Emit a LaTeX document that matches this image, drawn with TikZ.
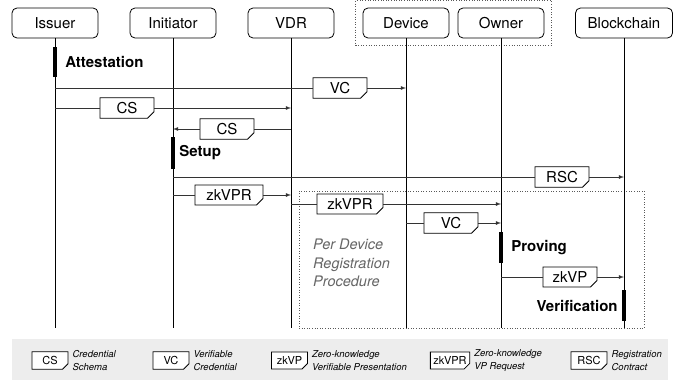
\documentclass[tikz,border=0pt]{standalone}
\usepackage{fontspec}
\setmainfont{TeX Gyre Heros}
\usetikzlibrary{positioning, shapes.misc, fit}
\tikzset{
    actor/.style={
        draw, line width=0.8pt, rounded corners=5pt,
        minimum width=86pt,
        minimum height=30pt,
        font=\fontsize{15}{16}\selectfont
    },
    msg/.style={
        draw, fill=white, line width=0.8pt,
        chamfered rectangle,
        chamfered rectangle corners=south east,
        chamfered rectangle xsep=3pt,
        minimum width=54pt,
        minimum height=20pt,
        inner sep=1pt,
        font=\fontsize{15}{16}\selectfont
    },
    key/.style={
        msg, chamfered rectangle xsep=2pt,
        minimum width=36pt, minimum height=15pt,
        font=\fontsize{11}{12}\selectfont
    },
    keytext/.style={
        align=left, inner sep=0pt,
        font=\fontsize{9.5}{13}\selectfont\itshape
    },
    act/.style={fill=black, minimum width=4pt, inner sep=0pt},
    phase/.style={font=\fontsize{15}{16}\selectfont\bfseries, inner sep=0pt},
    life/.style={line width=0.8pt},
    line0/.style={line width=0.8pt, black!80},
    line/.style={line0, -latex},
    frame/.style={draw, black!65, dotted, line width=0.6pt}
}
\begin{document}
\begin{tikzpicture}[x=1pt, y=-1pt]
    \useasboundingbox (0,0) rectangle (687,380);

    % Actors
    \node[actor] (issuer) at (55,23) {Issuer};
    \node[actor] (init) at (173,23) {Initiator};
    \node[actor] (vdr) at (291,23) {VDR};
    \node[actor] (device) at (406,23) {Device};
    \node[actor] (owner) at (501,23) {Owner};
    \node[actor, minimum width=97pt] (chain) at (624,23) {Blockchain};
    \node[frame, fit=(device)(owner), inner sep=7pt] (group) {};

    % Procedure frame
    \node[frame, minimum width=345pt, minimum height=137pt] (proc) at (471.5,259.5) {};
    \node[anchor=north west, inner sep=0pt, align=left, black!60,
        font=\fontsize{14.5}{18.5}\selectfont\itshape] (proctext) at (313,239)
        {Per Device\\Registration\\Procedure};

    % Lifelines
    \coordinate (bot) at (0,328);
    \foreach \a in {issuer, init, vdr, device, owner, chain}
        \draw[life] (\a.south) -- (\a.south |- bot);

    % Activations
    \node[act, minimum height=30pt] (att) at (55,62) {};
    \node[phase, right=8pt of att] (attT) {Attestation};
    \node[act, minimum height=32pt] (set) at (173,153) {};
    \node[phase, right=4pt of set] (setT) {Setup};
    \node[act, minimum height=31pt] (prov) at (501,247.5) {};
    \node[phase, right=8pt of prov] (provT) {Proving};
    \node[act, minimum height=31pt] (ver) at (624,305.5) {};
    \node[phase, left=4pt of ver] (verT) {Verification};

    % Messages
    \node[msg] (vcA) at (340,88) {VC};
    \draw[line0] (issuer |- vcA) -- (vcA.west);
    \draw[line] (vcA.east) -- (device |- vcA);

    \node[msg] (csA) at (127,108) {CS};
    \draw[line0] (issuer |- csA) -- (csA.west);
    \draw[line] (csA.east) -- (vdr |- csA);

    \node[msg] (csB) at (227,129) {CS};
    \draw[line0] (vdr |- csB) -- (csB.east);
    \draw[line] (csB.west) -- (init |- csB);

    \node[msg] (rsc) at (562,177) {RSC};
    \draw[line0] (init |- rsc) -- (rsc.west);
    \draw[line] (rsc.east) -- (chain |- rsc);

    \node[msg, minimum width=68pt] (vprA) at (229,195) {zkVPR};
    \draw[line0] (init |- vprA) -- (vprA.west);
    \draw[line] (vprA.east) -- (vdr |- vprA);

    \node[msg, minimum width=66pt] (vprB) at (350,204) {zkVPR};
    \draw[line0] (vdr |- vprB) -- (vprB.west);
    \draw[line] (vprB.east) -- (owner |- vprB);

    \node[msg] (vcB) at (451,223) {VC};
    \draw[line0] (device |- vcB) -- (vcB.west);
    \draw[line] (vcB.east) -- (owner |- vcB);

    \node[msg] (zkvp) at (570,277) {zkVP};
    \draw[line0] (owner |- zkvp) -- (zkvp.west);
    \draw[line] (zkvp.east) -- (chain |- zkvp);

    % Legend
    \fill[black!7] (12,339) rectangle (668,380);
    \node[key] (kCS) at (50,360.5) {CS};
    \node[keytext, right=4pt of kCS] (tCS) {Credential\\Schema};
    \node[key] (kVC) at (171,360.5) {VC};
    \node[keytext, right=4pt of kVC] (tVC) {Verifiable\\Credential};
    \node[key] (kVP) at (289.5,360.5) {zkVP};
    \node[keytext, right=4pt of kVP] (tVP) {Zero-knowledge\\Verifiable Presentation};
    \node[key] (kVPR) at (450,360.5) {zkVPR};
    \node[keytext, right=4pt of kVPR] (tVPR) {Zero-knowledge\\VP Request};
    \node[key] (kRSC) at (589,360.5) {RSC};
    \node[keytext, right=4pt of kRSC] (tRSC) {Registration\\Contract};
\end{tikzpicture}
\end{document}
